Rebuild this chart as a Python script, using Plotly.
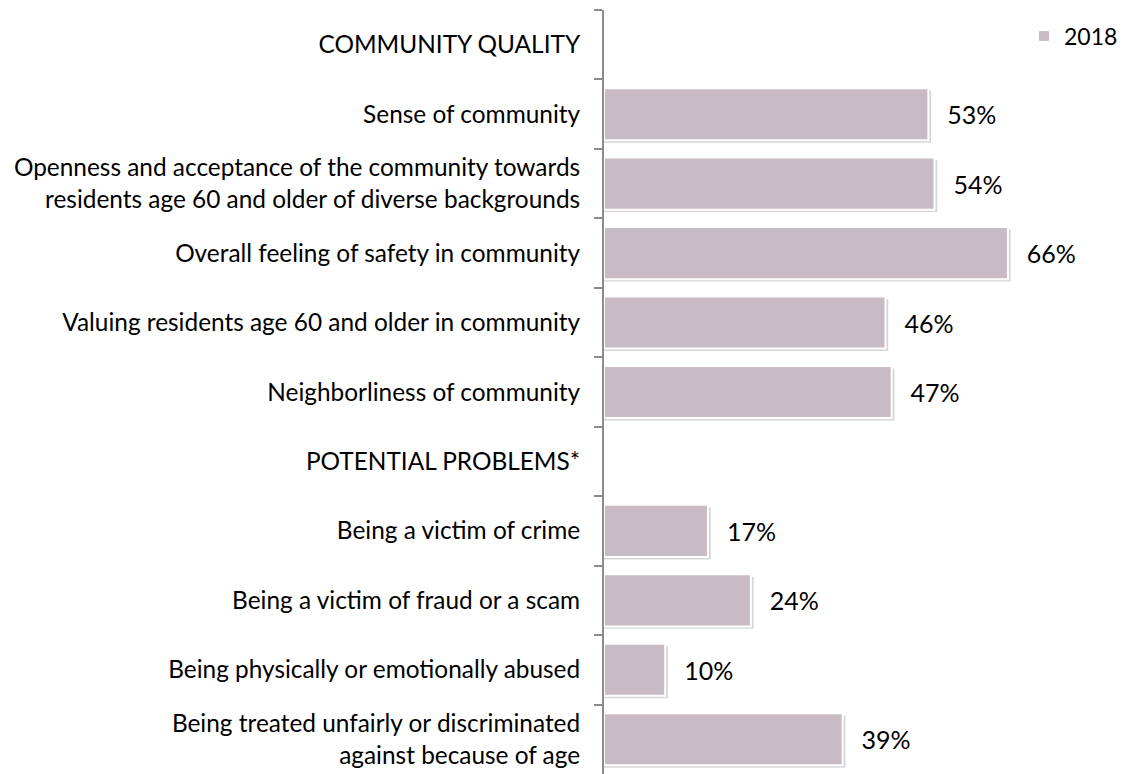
import plotly.graph_objects as go

categories = [
    "COMMUNITY QUALITY",
    "Sense of community",
    "Openness and acceptance of the community towards<br>residents age 60 and older of diverse backgrounds",
    "Overall feeling of safety in community",
    "Valuing residents age 60 and older in community",
    "Neighborliness of community",
    "POTENTIAL PROBLEMS*",
    "Being a victim of crime",
    "Being a victim of fraud or a scam",
    "Being physically or emotionally abused",
    "Being treated unfairly or discriminated<br>against because of age",
]
values_2018 = [None, 53, 54, 66, 46, 47, None, 17, 24, 10, 39]
labels_2018 = ["" if v is None else f"{v}%" for v in values_2018]

FONT = "Lato"
BAR = "#C8BBC3"
FS = 24.4

fig = go.Figure()
# soft shadow behind bars
fig.add_trace(go.Bar(
    y=categories, x=[None if v is None else v + 0.45 for v in values_2018],
    orientation="h", marker=dict(color="rgba(0,0,0,0.16)", line=dict(width=0)),
    offset=-0.34, width=0.75, hoverinfo="skip", showlegend=False,
))
fig.add_trace(go.Bar(
    y=categories, x=values_2018, name="2018", orientation="h",
    marker=dict(color=BAR, line=dict(color="white", width=2)),
    width=0.75,
    text=labels_2018, textposition="outside", cliponaxis=False,
    textfont=dict(family=FONT, size=25, color="black"),
    texttemplate="  \u2009%{text}",
))
fig.update_layout(
    width=1126, height=774,
    margin=dict(l=596, r=30, t=2, b=8),
    paper_bgcolor="white", plot_bgcolor="white",
    barmode="overlay",
    font=dict(family=FONT, size=FS, color="black"),
    showlegend=True,
    legend=dict(x=1.038, xanchor="right", y=0.966, yanchor="middle",
                font=dict(size=23), itemwidth=30, bgcolor="rgba(0,0,0,0)"),
    xaxis=dict(range=[0, 81.7], visible=False, fixedrange=True),
    yaxis=dict(
        type="category", autorange=False, range=[10.5, -0.5],
        showline=True, linecolor="#8c8c8c", linewidth=2,
        ticks="outside", ticklen=8, tickcolor="#8c8c8c", tickwidth=2,
        tickson="boundaries", ticklabelstandoff=17,
        showgrid=False, zeroline=False,
        automargin=False,
        tickfont=dict(family=FONT, size=FS, color="black"),
    ),
)
fig.write_html("out.html")
